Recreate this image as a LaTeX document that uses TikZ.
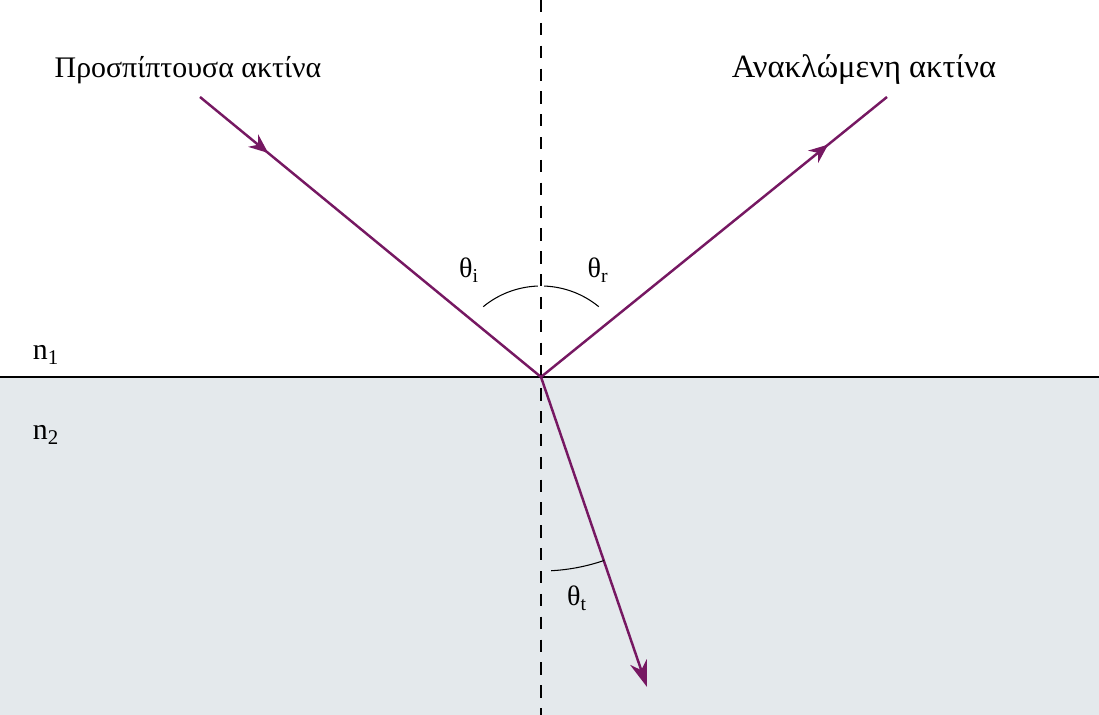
\documentclass[tikz,border=0pt]{standalone}
\usepackage{fontspec}
\setmainfont{Liberation Serif}
\usetikzlibrary{arrows.meta, decorations.markings, calc}
\definecolor{raycol}{RGB}{118,24,98}
\definecolor{glass}{RGB}{228,233,236}

\begin{document}
\begin{tikzpicture}[x=0.02cm, y=-0.02cm, >=Stealth,
            ray/.style={draw=raycol, line width=1.4pt},
            midarrow/.style={postaction={decorate}, decoration={markings,
                mark=at position #1 with {\arrow[raycol]{Stealth[length=11pt,width=9pt]}}}},
            label/.style={font=\fontsize{17}{20}\selectfont},
            angl/.style={font=\fontsize{16}{19}\selectfont}]

        \useasboundingbox (0,0) rectangle (1099,715);

        % --- Media ---
        \fill[glass] (0,377) rectangle (1099,715);
        \coordinate (west) at (0,377);
        \coordinate (east) at (1099,377);
        \draw[line width=1.2pt] (west) -- (east);

        % --- Normal ---
        \coordinate (top) at (541,0);
        \coordinate (bot) at (541,715);
        \draw[line width=1.1pt, dash pattern=on 7pt off 6pt] (top) -- (bot);

        % --- Rays ---
        \coordinate (O)   at (541,377);
        \coordinate (src) at (200,97);
        \coordinate (rfl) at (887,97);
        \coordinate (rfr) at (647,687);
        \draw[ray, midarrow=0.2] (src) -- (O);
        \draw[ray, midarrow=0.83] (O) -- (rfl);
        \draw[ray, -{Stealth[length=15pt,width=10pt]}] (O) -- (rfr);

        % --- Angles (y axis points down) ---
        \draw[line width=0.6pt] ($(O)+(-129.4:91)$) arc (-129.4:-92:91);
        \draw[line width=0.6pt] ($(O)+(-88:91)$) arc (-88:-50.6:91);
        \draw[line width=0.6pt] ($(O)+(87:194)$) arc (87:71:194);

        % --- Labels ---
        \node[label] (inc) at (188,70) {Προσπίπτουσα ακτίνα};
        \node[label, font=\fontsize{18.5}{22}\selectfont] (ref) at (864,70) {Ανακλώμενη ακτίνα};
        \node[angl] (ti) at (469,270) {θ\textsubscript{i}};
        \node[angl] (tr) at (598,270) {θ\textsubscript{r}};
        \node[angl] (tt) at (577,598) {θ\textsubscript{t}};
        \node[label] (n1) at (46,355) {n\textsubscript{1}};
        \node[label] (n2) at (46,435) {n\textsubscript{2}};

    \end{tikzpicture}
\end{document}
